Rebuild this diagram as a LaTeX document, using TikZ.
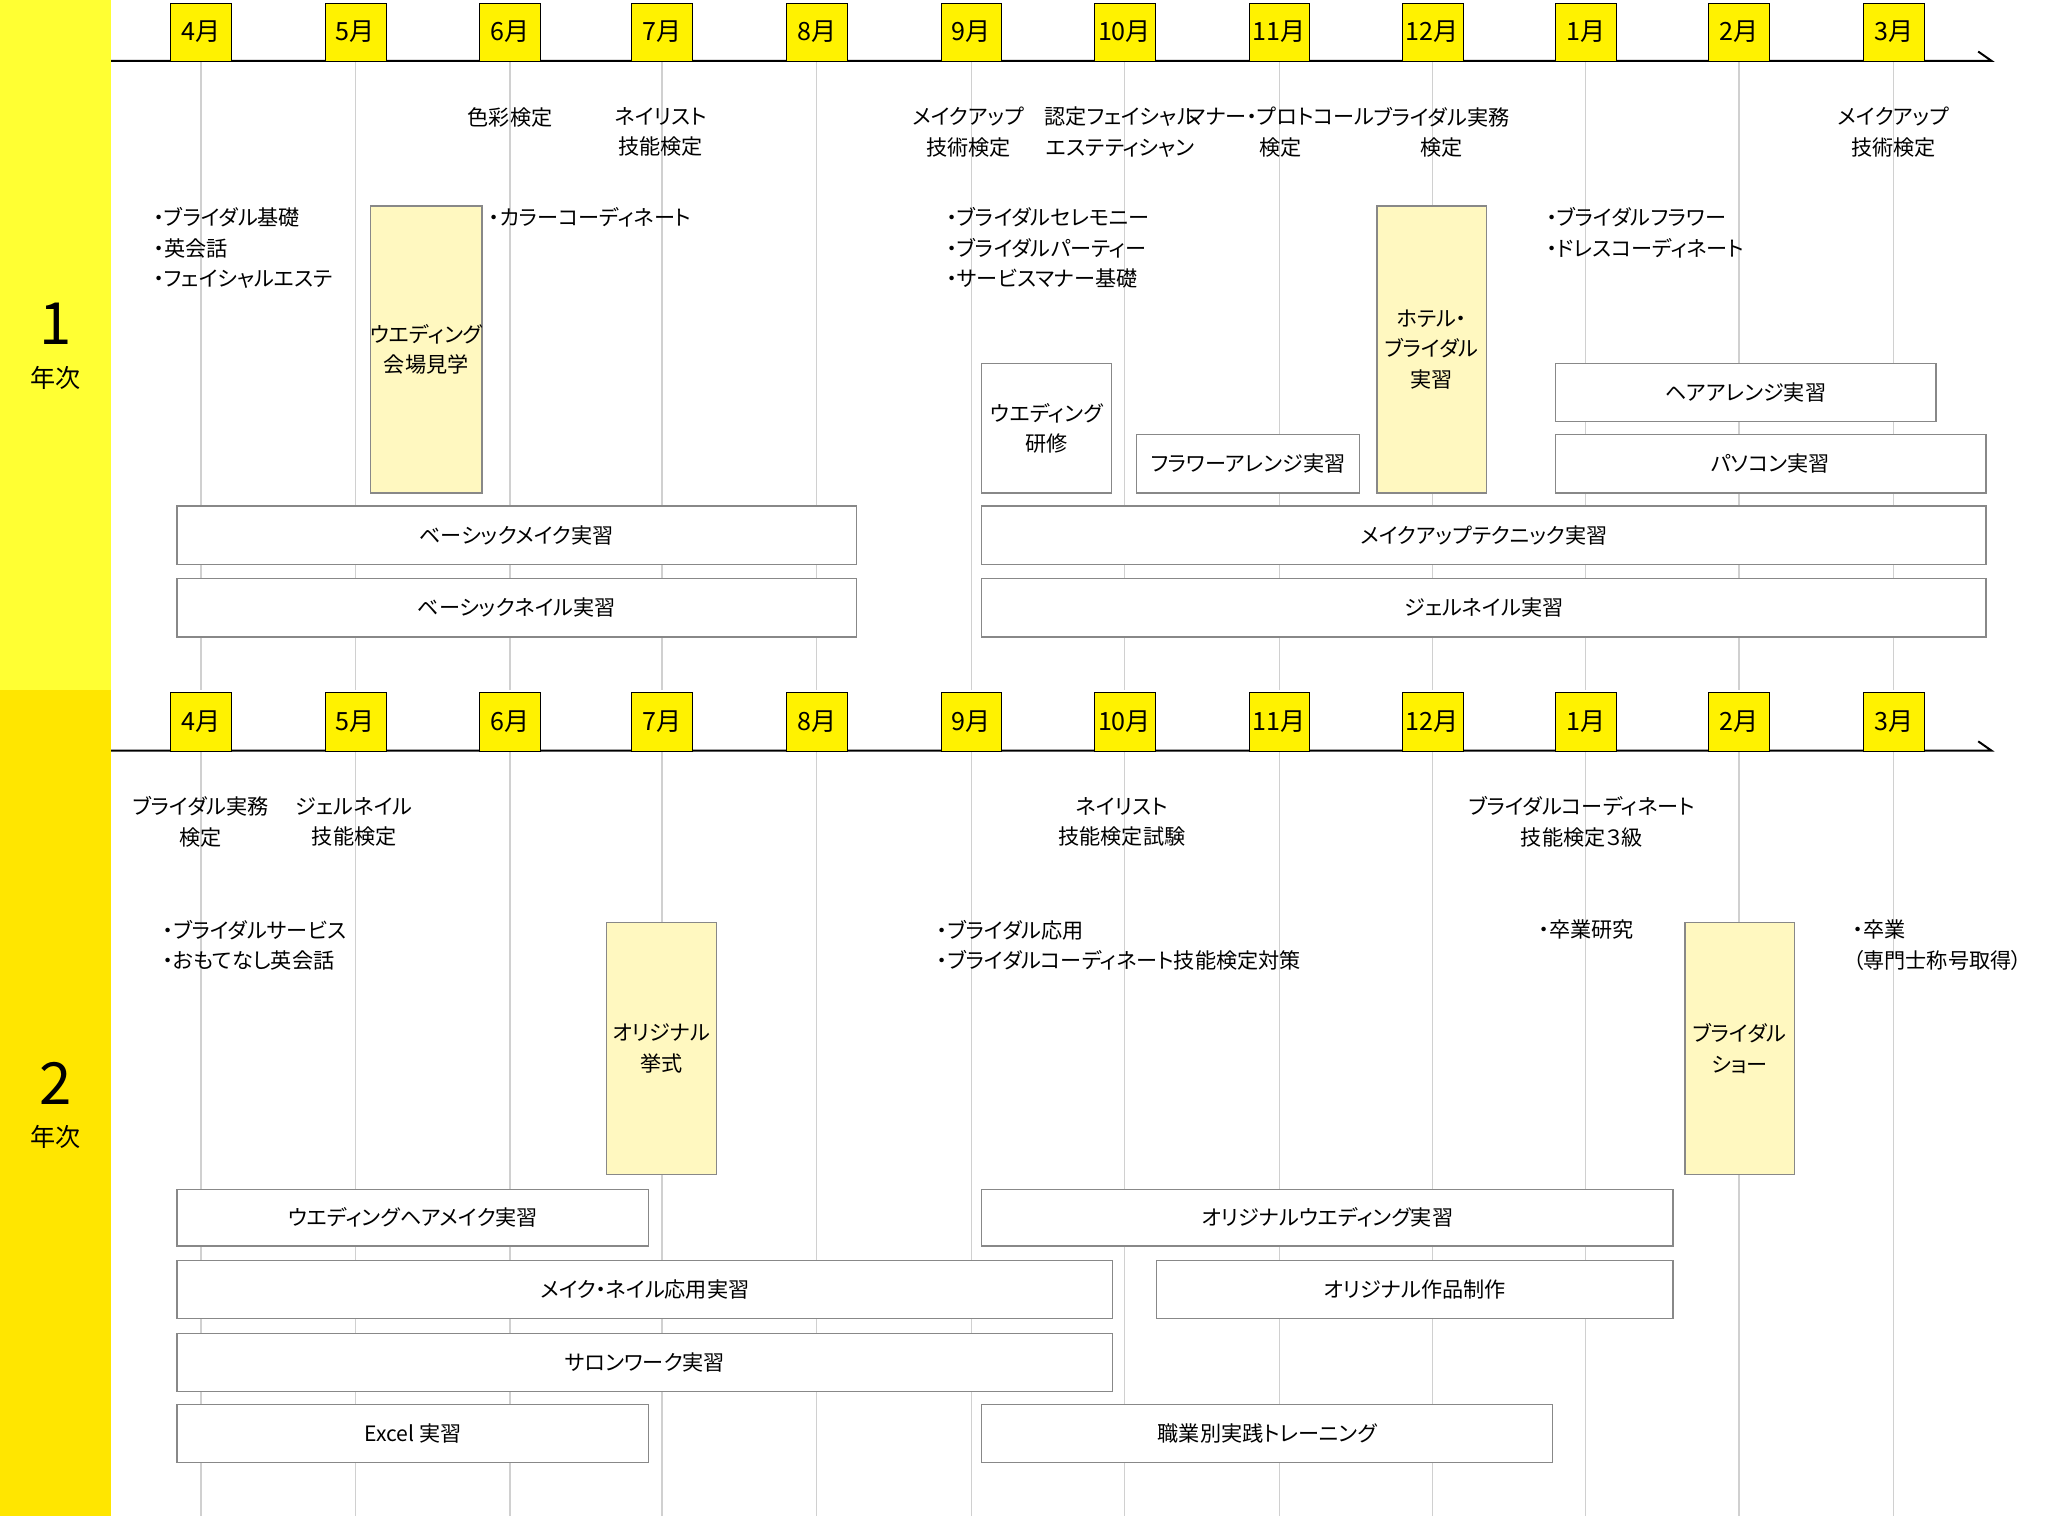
\documentclass[tikz,border=0pt]{standalone}
\usepackage{fontspec}
\newfontfamily\jp[RawFeature=+palt]{Noto Sans CJK JP}
\definecolor{yA}{HTML}{FFFF33}
\definecolor{yB}{HTML}{FFE600}
\definecolor{yM}{HTML}{FFF200}
\definecolor{yL}{HTML}{FFF8C0}
\definecolor{gl}{HTML}{D0D0D0}
\definecolor{bd}{HTML}{888888}
\tikzset{
 mon/.style={draw=black,fill=yM,minimum width=46pt,minimum height=44pt,inner sep=0pt,font=\jp\fontsize{19}{19}\selectfont,anchor=north},
 lbl/.style={font=\jp\fontsize{16}{23}\selectfont,align=center,inner sep=0pt},
 bul/.style={font=\jp\fontsize{16}{23}\selectfont,align=left,inner sep=0pt,anchor=north west},
 grid/.style={gl,line width=1pt},
 tl/.style={black,line width=1.5pt},
}
\newcommand{\rbx}[7]{\node[draw=bd,fill=#6,line width=1pt,lbl,minimum width=#3pt-#2pt,minimum height=#5pt-#4pt] (#1) at ({(#2+#3)/2},{(#4+#5)/2}) {#7};}
\begin{document}
\begin{tikzpicture}[x=1pt,y=-1pt]
\useasboundingbox (0,0) rectangle (1568,1147);
\fill[white] (0,0) rectangle (1568,1147);
\fill[yA] (0,0) rectangle (84,522);
\fill[yB] (0,522) rectangle (84,1147);
\node[font=\jp\fontsize{44}{44}\selectfont] (y1) at (42,245) {1};
\node[font=\jp\fontsize{19}{19}\selectfont] (y1b) at (42,286) {年次};
\node[font=\jp\fontsize{44}{44}\selectfont] (y2) at (42,820) {2};
\node[font=\jp\fontsize{19}{19}\selectfont] (y2b) at (42,860) {年次};
% grid lines
\foreach \x in {152,269,386,501,618,735,851,968,1084,1200,1316,1433}{
 \draw[grid] (\x,46) -- (\x,522);
 \draw[grid] (\x,568) -- (\x,1147);
}
% timelines
\coordinate (t1s) at (84,46); \coordinate (t1e) at (1507,46); \coordinate (t1k) at (1497,39);
\coordinate (t2s) at (84,568); \coordinate (t2e) at (1507,568); \coordinate (t2k) at (1497,561);
\draw[tl] (t1s) -- (t1e) -- (t1k);
\draw[tl] (t2s) -- (t2e) -- (t2k);
\foreach \x/\m [count=\i] in {152/4,269/5,386/6,501/7,618/8,735/9,851/10,968/11,1084/12,1200/1,1316/2,1433/3}{
 \node[mon] (ma\i) at (\x,2) {{\m}月};
 \node[mon] (mb\i) at (\x,524) {{\m}月};
}
% Year 1 labels
\node[lbl] (a1) at (386,89) {色彩検定};
\node[lbl] (a2) at (500,100) {ネイリスト\\技能検定};
\node[lbl] (a3) at (733,100) {メイクアップ\\技術検定};
\node[lbl] (a4) at (848,100) {認定フェイシャル\\エステティシャン};
\node[lbl] (a5) at (969,100) {マナー・プロトコール\\検定};
\node[lbl] (a6) at (1091,100) {ブライダル実務\\検定};
\node[lbl] (a7) at (1433,100) {メイクアップ\\技術検定};
\node[bul] (b1) at (116,157) {・ブライダル基礎\\・英会話\\・フェイシャルエステ};
\node[bul] (b2) at (370,157) {・カラーコーディネート};
\node[bul] (b3) at (716,157) {・ブライダルセレモニー\\・ブライダルパーティー\\・サービスマナー基礎};
\node[bul] (b4) at (1170,157) {・ブライダルフラワー\\・ドレスコーディネート};
\rbx{c1}{281}{364}{156}{373}{yL}{ウエディング\\会場見学}
\rbx{c2}{1042}{1125}{156}{373}{yL}{ホテル・\\ブライダル\\実習}
\rbx{c3}{743}{841}{275}{373}{white}{ウエディング\\研修}
\rbx{c4}{860}{1029}{329}{373}{white}{フラワーアレンジ実習}
\rbx{c5}{1177}{1465}{275}{319}{white}{ヘアアレンジ実習}
\rbx{c6}{1177}{1503}{329}{373}{white}{パソコン実習}
\rbx{c7}{134}{648}{383}{427}{white}{ベーシックメイク実習}
\rbx{c8}{743}{1503}{383}{427}{white}{メイクアップテクニック実習}
\rbx{c9}{134}{648}{438}{482}{white}{ベーシックネイル実習}
\rbx{c10}{743}{1503}{438}{482}{white}{ジェルネイル実習}
% Year 2 labels
\node[lbl] (d1) at (152,622) {ブライダル実務\\検定};
\node[lbl] (d2) at (268,622) {ジェルネイル\\技能検定};
\node[lbl] (d3) at (849,622) {ネイリスト\\技能検定試験};
\node[lbl] (d4) at (1197,622) {ブライダルコーディネート\\技能検定３級};
\node[bul] (e1) at (123,696) {・ブライダルサービス\\・おもてなし英会話};
\node[bul] (e2) at (709,696) {・ブライダル応用\\・ブライダルコーディネート技能検定対策};
\node[bul] (e3) at (1164,696) {・卒業研究};
\node[bul] (e4) at (1402,696) {・卒業\\（専門士称号取得）};
\rbx{f1}{459}{542}{698}{889}{yL}{オリジナル\\挙式}
\rbx{f2}{1275}{1358}{698}{889}{yL}{ブライダル\\ショー}
\rbx{f3}{134}{491}{900}{943}{white}{ウエディングヘアメイク実習}
\rbx{f4}{743}{1266}{900}{943}{white}{オリジナルウエディング実習}
\rbx{f5}{134}{842}{954}{998}{white}{メイク・ネイル応用実習}
\rbx{f6}{875}{1266}{954}{998}{white}{オリジナル作品制作}
\rbx{f7}{134}{842}{1009}{1053}{white}{サロンワーク実習}
\rbx{f8}{134}{491}{1063}{1107}{white}{Excel 実習}
\rbx{f9}{743}{1175}{1063}{1107}{white}{職業別実践トレーニング}
\end{tikzpicture}
\end{document}
